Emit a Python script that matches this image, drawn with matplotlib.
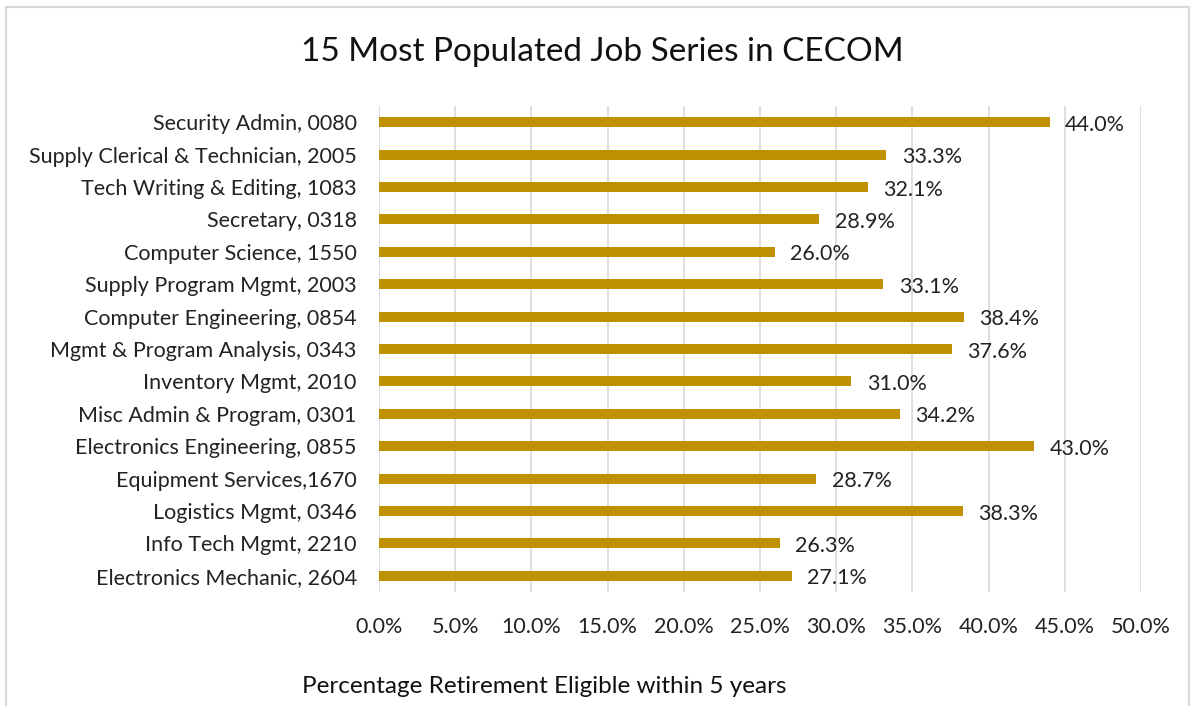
import matplotlib
matplotlib.use("Agg")
import matplotlib.pyplot as plt
from matplotlib.patches import Rectangle
from matplotlib.ticker import FuncFormatter, MultipleLocator

plt.rcParams["font.family"] = ["Lato", "DejaVu Sans"]

# Datos (de arriba hacia abajo)
job_series = [
    "Security Admin, 0080",
    "Supply Clerical & Technician, 2005",
    "Tech Writing & Editing, 1083",
    "Secretary, 0318",
    "Computer Science, 1550",
    "Supply Program Mgmt, 2003",
    "Computer Engineering, 0854",
    "Mgmt & Program Analysis, 0343",
    "Inventory Mgmt, 2010",
    "Misc Admin & Program, 0301",
    "Electronics Engineering, 0855",
    "Equipment Services,1670",
    "Logistics Mgmt, 0346",
    "Info Tech Mgmt, 2210",
    "Electronics Mechanic, 2604",
]
pct_eligible = [44.0, 33.3, 32.1, 28.9, 26.0, 33.1, 38.4, 37.6, 31.0, 34.2,
                43.0, 28.7, 38.3, 26.3, 27.1]

BAR_COLOR = "#BF9000"
GRID_COLOR = "#D9D9D9"
FS = 15.5

fig = plt.figure(figsize=(11.93, 7.06), dpi=100)
ax = fig.add_axes([0.3177, 0.1615, 0.6387, 0.6884])

y = list(range(len(job_series)))
ax.barh(y, pct_eligible, height=0.31, color=BAR_COLOR, zorder=3)
ax.set_ylim(len(job_series) - 0.5, -0.5)
ax.set_xlim(0, 50)

for yi, v in zip(y, pct_eligible):
    ax.text(v + 1.0, yi + 0.08, f"{v:.1f}%", va="center", ha="left",
            fontsize=FS, color="#222222")

ax.set_yticks(y)
ax.set_yticklabels(job_series, fontsize=FS, color="#222222")
ax.xaxis.set_major_locator(MultipleLocator(5))
ax.xaxis.set_major_formatter(FuncFormatter(lambda x, _: f"{x:.1f}%"))
ax.tick_params(axis="x", labelsize=FS, colors="#222222", length=0, pad=18)
ax.tick_params(axis="y", length=0, pad=16)
ax.grid(axis="x", color=GRID_COLOR, linewidth=1.2, zorder=0)
for s in ax.spines.values():
    s.set_visible(False)

fig.text(0.505, 0.926, "15 Most Populated Job Series in CECOM", ha="center",
         va="center", fontsize=24, color="#111111")
fig.text(0.456, 0.028, "Percentage Retirement Eligible within 5 years",
         ha="center", va="center", fontsize=17.5, color="#111111")

fig.patches.append(Rectangle((6 / 1193, -0.02), 1183 / 1193, 1 - 7 / 706 + 0.02,
                             transform=fig.transFigure, fill=False,
                             edgecolor=GRID_COLOR, linewidth=1.5))

fig.savefig("out.png", dpi=100)
